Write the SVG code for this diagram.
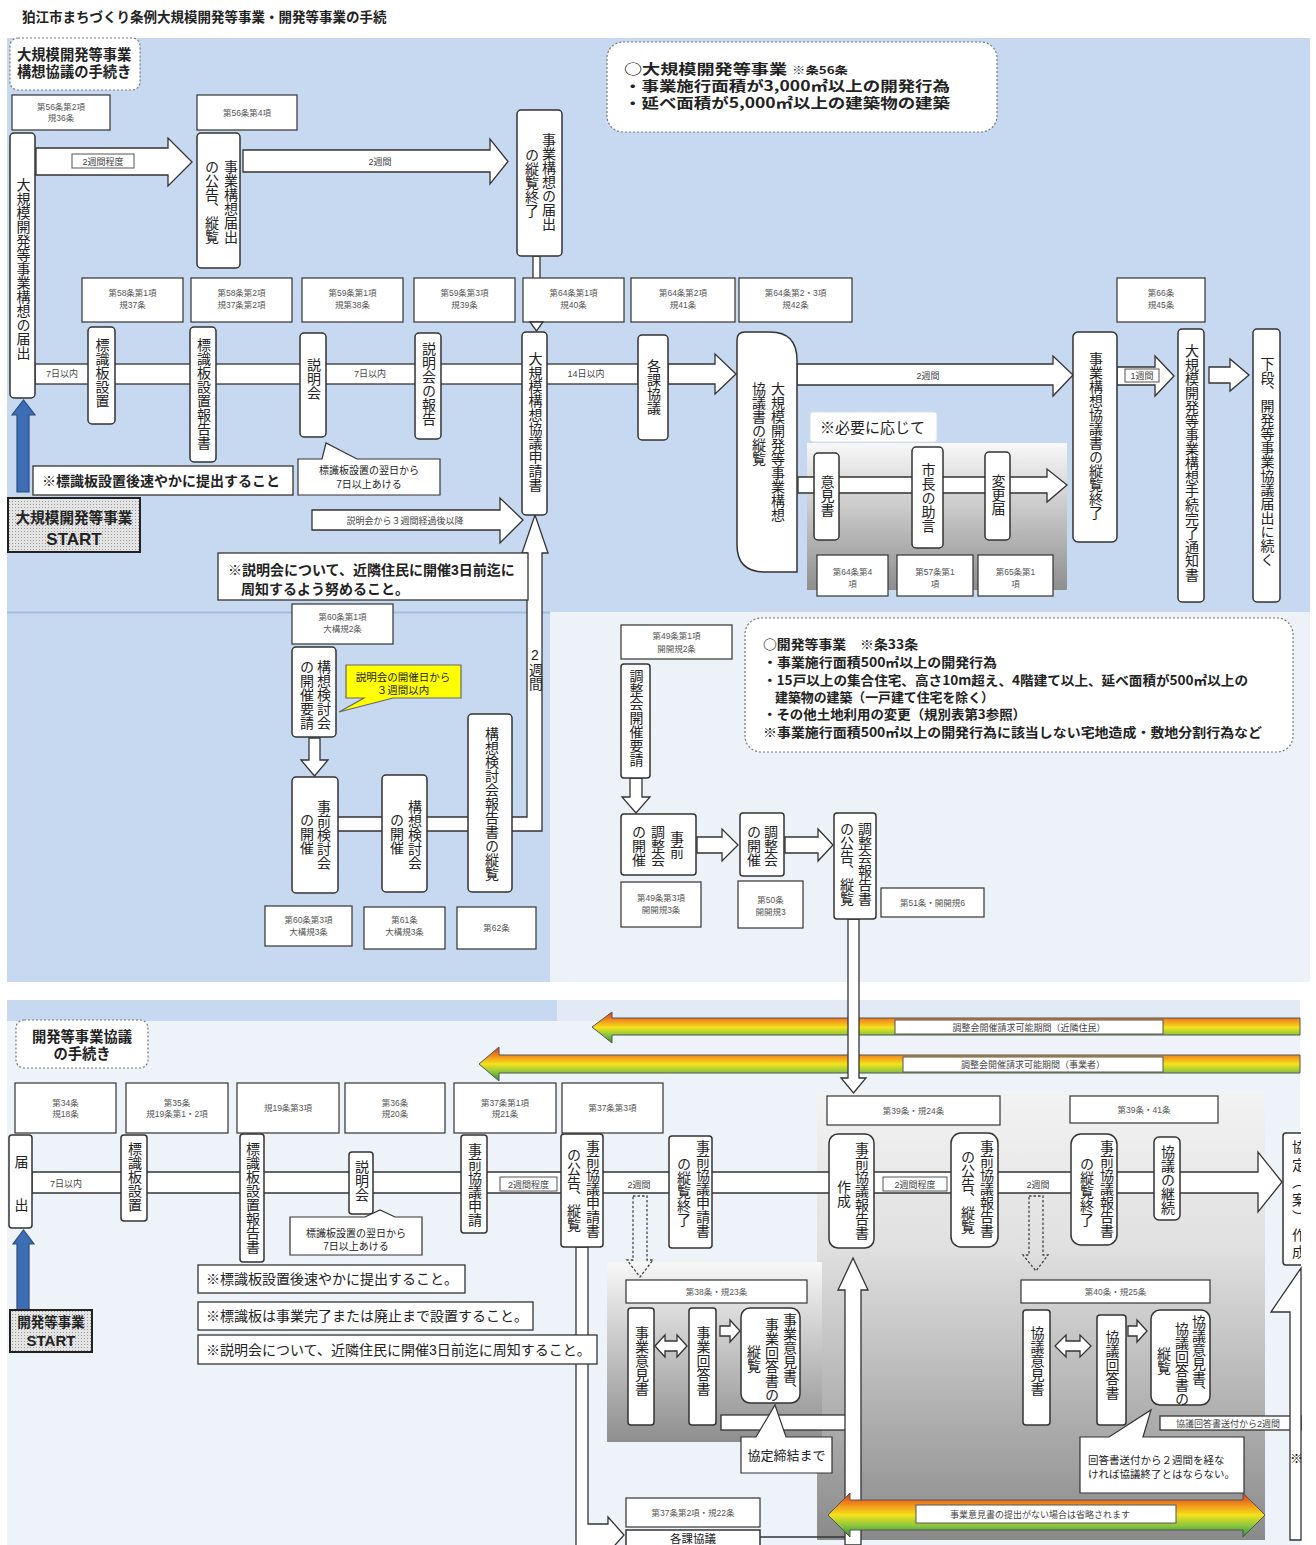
<svg xmlns="http://www.w3.org/2000/svg" width="1316" height="1545" viewBox="0 0 1316 1545">
<style>
text{font-family:"Liberation Sans","Noto Sans CJK JP",sans-serif;fill:#222}
.cj{font-family:"Noto Sans CJK JP","Liberation Sans",sans-serif}
.v{writing-mode:vertical-rl;font-size:14px}
.nd{fill:#fff;stroke:#333;stroke-width:1.5}
.ar{fill:#fff;stroke:#333;stroke-width:1.3}
.art{fill:#fff;stroke:#333;stroke-width:1.2}
.at{font-size:8.5px;fill:#555;text-anchor:middle}
.lb{font-size:9px;fill:#444;text-anchor:middle}
.lbx{fill:#fff;stroke:#555;stroke-width:1}
.note{fill:#fff;stroke:#333;stroke-width:1.3}
.dash{fill:#fff;stroke:#777;stroke-width:1.2;stroke-dasharray:2 2}
.dot{fill:none;stroke:#444;stroke-width:1.3;stroke-dasharray:2.5 2}
.rb{fill:url(#rb);stroke:#555;stroke-width:1}
.blue{fill:#3d6db5;stroke:#2a4d80;stroke-width:1.2}
.co{fill:#fff;stroke:#333;stroke-width:1.2}
</style>
<defs>
<linearGradient id="rb" x1="0" y1="0" x2="0" y2="1">
<stop offset="0" stop-color="#d8341f"/>
<stop offset="0.25" stop-color="#f08a1c"/>
<stop offset="0.5" stop-color="#f5e21a"/>
<stop offset="0.75" stop-color="#86c540"/>
<stop offset="1" stop-color="#2e8a3e"/>
</linearGradient>
<linearGradient id="gp" x1="0" y1="0" x2="0" y2="1">
<stop offset="0" stop-color="#f8f8f8"/>
<stop offset="1" stop-color="#8e8e8e"/>
</linearGradient>
<linearGradient id="gp2" x1="0" y1="0" x2="0" y2="1">
<stop offset="0" stop-color="#f3f3f3"/>
<stop offset="0.35" stop-color="#e0e0e0"/>
<stop offset="1" stop-color="#8a8a8a"/>
</linearGradient>
<pattern id="dots" width="3" height="3" patternUnits="userSpaceOnUse">
<rect width="3" height="3" fill="#e4e4e4"/>
<rect width="1" height="1" fill="#999"/>
</pattern>
<clipPath id="clipR"><rect x="0" y="0" width="1301" height="1545"/></clipPath>
</defs>

<rect width="1316" height="1545" fill="#fff"/>
<text x="22" y="22" font-size="13.5" font-weight="bold">狛江市まちづくり条例大規模開発等事業・開発等事業の手続</text>

<!-- backgrounds -->
<g id="backgrounds">
<rect x="7" y="38" width="1303" height="575" fill="#c6d9f0"/>
<rect x="7" y="612" width="543" height="370" fill="#c6d9f0"/>
<line x1="7" y1="612.5" x2="550" y2="612.5" stroke="#a3bddc" stroke-width="2"/>
<rect x="550" y="612" width="760" height="370" fill="#edf2f9"/>
<rect x="7" y="1000" width="1293" height="545" fill="#eef3fa"/>
<rect x="7" y="1000" width="550" height="21" fill="#c6d9f0"/>
<rect x="557" y="1000" width="743" height="21" fill="#e2eaf5"/>
<rect x="807" y="443" width="260" height="147" fill="url(#gp)"/>
<rect x="817" y="1090" width="448" height="450" fill="url(#gp2)"/>
<rect x="607" y="1262" width="215" height="180" fill="url(#gp)"/>
</g>

<!-- headings / info boxes -->
<g id="head-large">
<rect x="10" y="38" width="130" height="52" rx="8" class="dash"/>
<text x="17" y="60" font-size="14.3" font-weight="bold">大規模開発等事業</text>
<text x="17" y="77" font-size="14.3" font-weight="bold">構想協議の手続き</text>
</g>
<g id="info-large">
<rect x="607" y="42" width="390" height="90" rx="16" class="dash"/>
<text class="cj" x="624" y="74" font-size="14" font-weight="bold" textLength="163" lengthAdjust="spacingAndGlyphs">○大規模開発等事業</text>
<text class="cj" x="792" y="74" font-size="10" font-weight="bold" textLength="56" lengthAdjust="spacingAndGlyphs">※条56条</text>
<text class="cj" x="624" y="91" font-size="14" font-weight="bold" textLength="326" lengthAdjust="spacingAndGlyphs">・事業施行面積が3,000㎡以上の開発行為</text>
<text class="cj" x="624" y="108" font-size="14" font-weight="bold" textLength="326" lengthAdjust="spacingAndGlyphs">・延べ面積が5,000㎡以上の建築物の建築</text>
</g>
<g id="info-dev">
<rect x="745" y="618" width="548" height="134" rx="16" class="dash"/>
<text class="cj" x="763" y="649" font-size="13" font-weight="bold" textLength="155" lengthAdjust="spacingAndGlyphs">○開発等事業　※条33条</text>
<text class="cj" x="763" y="667" font-size="13" font-weight="bold" textLength="234" lengthAdjust="spacingAndGlyphs">・事業施行面積500㎡以上の開発行為</text>
<text class="cj" x="763" y="685" font-size="13" font-weight="bold" textLength="485" lengthAdjust="spacingAndGlyphs">・15戸以上の集合住宅、高さ10m超え、4階建て以上、延べ面積が500㎡以上の</text>
<text class="cj" x="775" y="702" font-size="13" font-weight="bold" textLength="219" lengthAdjust="spacingAndGlyphs">建築物の建築（一戸建て住宅を除く）</text>
<text class="cj" x="763" y="719" font-size="13" font-weight="bold" textLength="263" lengthAdjust="spacingAndGlyphs">・その他土地利用の変更（規別表第3参照）</text>
<text class="cj" x="763" y="737" font-size="13" font-weight="bold" textLength="499" lengthAdjust="spacingAndGlyphs">※事業施行面積500㎡以上の開発行為に該当しない宅地造成・敷地分割行為など</text>
</g>
<g id="head-dev">
<rect x="16" y="1020" width="132" height="48" rx="8" class="dash"/>
<text x="82" y="1042" font-size="14.3" font-weight="bold" text-anchor="middle">開発等事業協議</text>
<text x="82" y="1059" font-size="14.3" font-weight="bold" text-anchor="middle">の手続き</text>
</g>

<!-- article boxes -->
<g id="articles">
<rect class="art" x="12" y="95" width="98" height="35"/><text class="at" x="61" y="110">第56条第2項</text><text class="at" x="61" y="121">規36条</text>
<rect class="art" x="197" y="95" width="100" height="35"/><text class="at" x="247" y="116">第56条第4項</text>
<rect class="art" x="82" y="278" width="101" height="44"/><text class="at" x="132.5" y="296">第58条第1項</text><text class="at" x="132.5" y="308">規37条</text>
<rect class="art" x="191" y="278" width="101" height="44"/><text class="at" x="241.5" y="296">第58条第2項</text><text class="at" x="241.5" y="308">規37条第2項</text>
<rect class="art" x="302" y="278" width="101" height="44"/><text class="at" x="352.5" y="296">第59条第1項</text><text class="at" x="352.5" y="308">規第38条</text>
<rect class="art" x="414" y="278" width="101" height="44"/><text class="at" x="464.5" y="296">第59条第3項</text><text class="at" x="464.5" y="308">規39条</text>
<rect class="art" x="631" y="278" width="104" height="44"/><text class="at" x="683" y="296">第64条第2項</text><text class="at" x="683" y="308">規41条</text>
<rect class="art" x="739" y="278" width="113" height="44"/><text class="at" x="795.5" y="296">第64条第2・3項</text><text class="at" x="795.5" y="308">規42条</text>
<rect class="art" x="1117" y="278" width="88" height="44"/><text class="at" x="1161" y="296">第66条</text><text class="at" x="1161" y="308">規45条</text>
<rect class="art" x="817" y="555" width="71" height="41"/><text class="at" x="852.5" y="575">第64条第4</text><text class="at" x="852.5" y="587">項</text>
<rect class="art" x="897" y="555" width="76" height="41"/><text class="at" x="935" y="575">第57条第1</text><text class="at" x="935" y="587">項</text>
<rect class="art" x="978" y="555" width="75" height="41"/><text class="at" x="1015.5" y="575">第65条第1</text><text class="at" x="1015.5" y="587">項</text>
<rect class="art" x="292" y="604" width="101" height="40"/><text class="at" x="342.5" y="620">第60条第1項</text><text class="at" x="342.5" y="632">大構規2条</text>
<rect class="art" x="265" y="906" width="87" height="40"/><text class="at" x="308.5" y="923">第60条第3項</text><text class="at" x="308.5" y="935">大構規3条</text>
<rect class="art" x="364" y="907" width="81" height="42"/><text class="at" x="404.5" y="923">第61条</text><text class="at" x="404.5" y="935">大構規3条</text>
<rect class="art" x="457" y="907" width="79" height="42"/><text class="at" x="496.5" y="931">第62条</text>
<rect class="art" x="621" y="625" width="111" height="34"/><text class="at" x="676.5" y="639">第49条第1項</text><text class="at" x="676.5" y="652">開開規2条</text>
<rect class="art" x="621" y="882" width="80" height="45"/><text class="at" x="661" y="901">第49条第3項</text><text class="at" x="661" y="913">開開規3条</text>
<rect class="art" x="738" y="881" width="65" height="47"/><text class="at" x="770.5" y="903">第50条</text><text class="at" x="770.5" y="915">開開規3</text>
<rect class="art" x="881" y="888" width="103" height="29"/><text class="at" x="932.5" y="906">第51条・開開規6</text>
<rect class="art" x="15" y="1083" width="101" height="50"/><text class="at" x="65.5" y="1106">第34条</text><text class="at" x="65.5" y="1117">規18条</text>
<rect class="art" x="126" y="1083" width="102" height="50"/><text class="at" x="177" y="1106">第35条</text><text class="at" x="177" y="1117">規19条第1・2項</text>
<rect class="art" x="237" y="1083" width="102" height="50"/><text class="at" x="288" y="1111">規19条第3項</text>
<rect class="art" x="345" y="1083" width="100" height="50"/><text class="at" x="395" y="1106">第36条</text><text class="at" x="395" y="1117">規20条</text>
<rect class="art" x="454" y="1083" width="102" height="50"/><text class="at" x="505" y="1106">第37条第1項</text><text class="at" x="505" y="1117">規21条</text>
<rect class="art" x="562" y="1083" width="101" height="50"/><text class="at" x="612.5" y="1111">第37条第3項</text>
<rect class="art" x="827" y="1096" width="173" height="29"/><text class="at" x="913.5" y="1114">第39条・規24条</text>
<rect class="art" x="1070" y="1096" width="148" height="27"/><text class="at" x="1144" y="1113">第39条・41条</text>
<rect class="art" x="626" y="1280" width="181" height="23"/><text class="at" x="716.5" y="1295">第38条・規23条</text>
<rect class="art" x="1021" y="1280" width="189" height="23"/><text class="at" x="1115.5" y="1295">第40条・規25条</text>
<rect class="art" x="626" y="1498" width="134" height="29"/><text class="at" x="693" y="1516">第37条第2項・規22条</text>
</g>

<!-- connectors -->
<g id="connectors">
<polygon class="ar" points="36,148 168,148 168,138 192,162 168,186 168,175 36,175"/>
<rect class="lbx" x="72" y="154" width="62" height="14"/><text class="lb" x="103" y="164.5">2週間程度</text>
<polygon class="ar" points="243,150 490,150 490,139 508,161.5 490,184 490,172 243,172"/>
<text class="lb" x="380" y="165" font-size="9.5">2週間</text>
<rect class="ar" x="533" y="256" width="7" height="70"/>
<rect class="ar" x="35" y="364" width="603" height="20"/>
<text class="lb" x="62" y="377">7日以内</text>
<text class="lb" x="370" y="377">7日以内</text>
<text class="lb" x="586" y="377">14日以内</text>
<polygon class="ar" points="668,364 715,364 715,354 736,374 715,394 715,384 668,384"/>
<polygon class="ar" points="797,364 1053,364 1053,356 1073,375 1053,396 1053,385 797,385"/>
<text class="lb" x="928" y="379">2週間</text>
<polygon class="ar" points="1117,367 1155,367 1155,356 1174,376 1155,396 1155,385 1117,385"/>
<rect class="lbx" x="1125" y="369" width="34" height="13"/><text class="lb" x="1142" y="379" font-size="8">1週間</text>
<polygon class="ar" points="1209,367 1230,367 1230,359 1249,375 1230,391 1230,383 1209,383"/>
<polygon class="ar" points="798,477 1047,477 1047,469 1067,485 1047,502 1047,493 798,493"/>
<polygon class="ar" points="312,510 500,510 500,498 523,520 500,543 500,530 312,530"/>
<text class="lb" x="405" y="524" font-size="9.5">説明会から３週間経過後以降</text>
<path class="ar" d="M337,817 H527 V553 H522 L535,515 L548,553 H542 V831 H337 Z"/>
<text class="v" x="535" y="647" font-size="10.5" style="text-orientation:upright">2週間</text>
<polygon class="ar" points="309,738 320,738 320,760 328,760 314.5,776 301,760 309,760"/>
<polygon class="ar" points="630,778 642,778 642,797 650,797 636,813 622,797 630,797"/>
<polygon class="ar" points="697,837 722,837 722,829 738,845 722,861 722,853 697,853"/>
<polygon class="ar" points="785,837 818,837 818,829 833,845 818,861 818,853 785,853"/>

<polygon class="rb" points="592,1027 612,1012 612,1018 1300,1018 1300,1035 612,1035 612,1043"/>
<rect class="lbx" x="895" y="1020" width="268" height="14" stroke="none"/><text class="lb" x="1029" y="1031" font-size="11">調整会開催請求可能期間（近隣住民）</text>
<polygon class="rb" points="479,1064 499,1047 499,1055 1300,1055 1300,1073 499,1073 499,1081"/>
<rect class="lbx" x="903" y="1057" width="260" height="15" stroke="none"/><text class="lb" x="1033" y="1068" font-size="11">調整会開催請求可能期間（事業者）</text>
<polygon class="ar" points="848,919 859,919 859,1078 866,1078 853.5,1093 841,1078 848,1078"/>

<polygon class="ar" points="32,1172 1258,1172 1258,1152 1282,1182 1258,1212 1258,1193 32,1193"/>
<text class="lb" x="66" y="1187">7日以内</text>
<rect class="lbx" x="500" y="1177" width="57" height="14"/><text class="lb" x="528.5" y="1188">2週間程度</text>
<text class="lb" x="639" y="1188">2週間</text>
<rect class="lbx" x="883" y="1177" width="64" height="14"/><text class="lb" x="915" y="1188">2週間程度</text>
<text class="lb" x="1038" y="1188">2週間</text>
<polygon class="dot" points="633,1196 647,1196 647,1260 653,1260 640,1277 627,1260 633,1260"/>
<polygon class="dot" points="1029,1196 1043,1196 1043,1255 1048,1255 1036,1271 1023,1255 1029,1255"/>
<path class="ar" d="M576,1247 L588,1247 L588,1524 L608,1524 L608,1517 L624,1535 L608,1553 L608,1546 L576,1546 Z"/>
<rect class="ar" x="721" y="1415" width="126" height="15"/>
<polygon class="ar" points="845,1545 845,1290 838,1290 853,1258 868,1290 861,1290 861,1545"/>
<line x1="760" y1="1537" x2="845" y2="1537" stroke="#333" stroke-width="1.3"/>
<rect class="ar" x="1160" y="1416" width="141" height="14"/>
<text class="lb" x="1228" y="1427" font-size="9.5">協議回答書送付から2週間</text>
<polygon class="ar" points="655,1346 665,1335 665,1341 677,1341 677,1335 687,1346 677,1357 677,1351 665,1351 665,1357"/>
<polygon class="ar" points="720,1326 730,1326 730,1320 740,1331 730,1342 730,1336 720,1336"/>
<polygon class="ar" points="1055,1346 1066,1335 1066,1341 1080,1341 1080,1335 1091,1346 1080,1357 1080,1351 1066,1351 1066,1357"/>
<polygon class="ar" points="1128,1326 1137,1326 1137,1320 1147,1331 1137,1342 1137,1336 1128,1336"/>
<polygon class="rb" points="828,1515 850,1493 850,1500 1243,1500 1243,1493 1265,1515 1243,1537 1243,1530 850,1530 850,1537"/>
<rect class="lbx" x="916" y="1505" width="260" height="18" stroke="none"/><text class="lb" x="1040" y="1518" font-size="11">事業意見書の提出がない場合は省略されます</text>
<path class="ar" d="M1301,1268 L1271,1312 L1290,1312 L1290,1540 L1301,1540 Z"/>
<polygon class="blue" points="17,492 17,415 12,415 23.5,400 35,415 29,415 29,492"/>
<polygon class="blue" points="17,1310 17,1244 13,1244 23.5,1230 34,1244 29,1244 29,1310"/>
</g>

<!-- upper nodes -->
<g id="n-large-todoke"><rect class="nd" x="10" y="133" width="25" height="265" rx="4"/><text class="v" x="22.5" y="178">大規模開発等事業構想の届出</text></g>
<g id="n-large-koukoku"><rect class="nd" x="197" y="133" width="43" height="135" rx="4"/><text class="v" x="230" y="160">事業構想届出</text><text class="v" x="211" y="160">の公告、縦覧</text></g>
<g id="n-large-juran-end"><rect class="nd" x="517" y="110" width="45" height="146" rx="4"/><text class="v" x="548" y="133">事業構想の届出</text><text class="v" x="531" y="148">の縦覧終了</text></g>
<g id="art-64-1"><rect class="art" x="523" y="278" width="101" height="44"/><text class="at" x="573.5" y="296">第64条第1項</text><text class="at" x="573.5" y="308">規40条</text><polygon class="ar" points="530,322 543,322 536.5,331"/></g>
<g id="n-hyoshiki"><rect class="nd" x="88" y="327" width="27" height="97" rx="4"/><text class="v" x="101.5" y="338" font-size="15">標識板設置</text></g>
<g id="n-hyoshiki-hokoku"><rect class="nd" x="190" y="327" width="26" height="135" rx="4"/><text class="v" x="203" y="338" font-size="14.3">標識板設置報告書</text></g>
<g id="n-setsumeikai"><rect class="nd" x="300" y="333" width="26" height="104" rx="4"/><text class="v" x="313" y="358" font-size="16">説明会</text></g>
<g id="n-setsumeikai-hokoku"><rect class="nd" x="415" y="333" width="26" height="106" rx="4"/><text class="v" x="428" y="342" font-size="14.3">説明会の報告</text></g>
<g id="n-large-shinsei"><rect class="nd" x="522" y="332" width="25" height="183" rx="4"/><text class="v" x="534.5" y="352" font-size="14.5">大規模構想協議申請書</text></g>
<g id="n-kakuka-1"><rect class="nd" x="638" y="335" width="30" height="105" rx="4"/><text class="v" x="653" y="359" font-size="14.5">各課協議</text></g>
<g id="n-large-kyogisho"><path class="nd" d="M745,332 H770 Q797,332 797,360 V572 H765 Q737,572 737,545 V340 Q737,332 745,332 Z"/><text class="v" x="777" y="382">大規模開発等事業構想</text><text class="v" x="758" y="382">協議書の縦覧</text></g>
<g id="n-hitsuyo"><rect x="810" y="412" width="127" height="30" rx="3" fill="#fff" stroke="#d6dde6"/><text x="820" y="433" font-size="15">※必要に応じて</text></g>
<g id="n-ikensho"><rect class="nd" x="814" y="453" width="25" height="87" rx="4"/><text class="v" x="826.5" y="475" font-size="14.5">意見書</text></g>
<g id="n-shicho"><rect class="nd" x="912" y="447" width="31" height="101" rx="4"/><text class="v" x="927.5" y="463">市長の助言</text></g>
<g id="n-henko"><rect class="nd" x="985" y="452" width="25" height="88" rx="4"/><text class="v" x="997.5" y="474" font-size="14.5">変更届</text></g>
<g id="n-large-juran-end2"><rect class="nd" x="1073" y="332" width="44" height="210" rx="5"/><text class="v" x="1095" y="352" font-size="14.3">事業構想協議書の縦覧終了</text></g>
<g id="n-large-kanryo"><rect class="nd" x="1178" y="329" width="26" height="273" rx="4"/><text class="v" x="1191" y="344" font-size="14.3">大規模開発等事業構想手続完了通知書</text></g>
<g id="n-gedan"><rect class="nd" x="1253" y="329" width="27" height="273" rx="4"/><text class="v" x="1266.5" y="357" font-size="14.2">下段、開発等事業協議届出に続く</text></g>

<g id="note-large-1"><rect class="note" x="33" y="466" width="260" height="29"/><text x="42" y="486" font-size="14" font-weight="bold">※標識板設置後速やかに提出すること</text></g>
<g id="start-large"><rect x="8" y="498" width="132" height="54" fill="url(#dots)" stroke="#222" stroke-width="2"/><text x="74" y="523" font-size="14.6" font-weight="bold" text-anchor="middle">大規模開発等事業</text><text x="74" y="545" font-size="17" font-weight="bold" text-anchor="middle">START</text></g>
<g id="callout-large-1"><path class="co" d="M298,459 L322,459 L326,443 L357,459 L440,459 L440,495 L298,495 Z"/><text x="369" y="474" font-size="10" text-anchor="middle" fill="#444">標識板設置の翌日から</text><text x="369" y="488" font-size="10" text-anchor="middle" fill="#444">7日以上あける</text></g>
<g id="note-large-2"><rect class="note" x="218" y="553" width="310" height="47"/><text x="228" y="575" font-size="14" font-weight="bold">※説明会について、近隣住民に開催3日前迄に</text><text x="241" y="594" font-size="14" font-weight="bold">周知するよう努めること。</text></g>

<!-- lower-left blue nodes -->
<g id="n-kentokai-yosei"><rect class="nd" x="292" y="647" width="44" height="90" rx="4"/><text class="v" x="323" y="660">構想検討会</text><text class="v" x="306" y="660">の開催要請</text></g>
<g id="callout-yellow"><path d="M346,665 L461,665 L461,698 L393,698 L339,712 L364,698 L346,698 Z" fill="#ffff00" stroke="#666" stroke-width="1.2"/><text x="403" y="681" font-size="10.5" text-anchor="middle" fill="#b34700">説明会の開催日から</text><text x="403" y="694" font-size="10.5" text-anchor="middle" fill="#b34700">３週間以内</text></g>
<g id="n-jizen-kentokai"><rect class="nd" x="292" y="777" width="46" height="116" rx="4"/><text class="v" x="323" y="800" font-size="14.5">事前検討会</text><text class="v" x="306" y="813" font-size="14.5">の開催</text></g>
<g id="n-kousou-kentokai"><rect class="nd" x="382" y="775" width="45" height="117" rx="4"/><text class="v" x="414" y="800" font-size="14.5">構想検討会</text><text class="v" x="396" y="813" font-size="14.5">の開催</text></g>
<g id="n-kentokai-hokoku"><rect class="nd" x="468" y="714" width="44" height="178" rx="4"/><text class="v" x="491" y="727" font-size="14.4">構想検討会報告書の縦覧</text></g>

<!-- right middle nodes -->
<g id="n-choseikai-yosei"><rect class="nd" x="621" y="664" width="29" height="114" rx="3"/><text class="v" x="635.5" y="669" font-size="14.5">調整会開催要請</text></g>
<g id="n-jizen-choseikai"><rect class="nd" x="621" y="814" width="75" height="61" rx="3"/><text class="v" x="676" y="831" font-size="13.5">事前</text><text class="v" x="657" y="825" font-size="13.5">調整会</text><text class="v" x="638" y="825" font-size="13.5">の開催</text></g>
<g id="n-choseikai"><rect class="nd" x="740" y="813" width="44" height="63" rx="3"/><text class="v" x="770" y="825" font-size="13.5">調整会</text><text class="v" x="753" y="825" font-size="13.5">の開催</text></g>
<g id="n-choseikai-hokoku"><rect class="nd" x="834" y="813" width="42" height="106" rx="3"/><text class="v" x="864" y="822">調整会報告書</text><text class="v" x="846" y="822">の公告、縦覧</text></g>

<!-- lower nodes -->
<g id="n-todokede"><rect class="nd" x="9" y="1135" width="23" height="93" rx="3"/><text class="v" x="20.5" y="1155" style="letter-spacing:29px">届出</text></g>
<g id="n-hyoshiki-2"><rect class="nd" x="121" y="1135" width="26" height="86" rx="3"/><text class="v" x="134" y="1142" font-size="14.5">標識板設置</text></g>
<g id="n-hyoshiki-hokoku-2"><rect class="nd" x="240" y="1134" width="24" height="128" rx="3"/><text class="v" x="252" y="1142">標識板設置報告書</text></g>
<g id="n-setsumeikai-2"><rect class="nd" x="349" y="1152" width="24" height="62" rx="3"/><text class="v" x="361" y="1160" font-size="15">説明会</text></g>
<g id="callout-dev-1"><path class="co" d="M290,1217 L365,1217 L380,1210 L395,1217 L422,1217 L422,1255 L290,1255 Z"/><text x="356" y="1237" font-size="10" text-anchor="middle" fill="#444">標識板設置の翌日から</text><text x="356" y="1250" font-size="10" text-anchor="middle" fill="#444">7日以上あける</text></g>
<g id="n-jizen-shinsei"><rect class="nd" x="461" y="1135" width="26" height="98" rx="3"/><text class="v" x="474" y="1143">事前協議申請</text></g>
<g id="n-shinsei-koukoku"><rect class="nd" x="561" y="1134" width="42" height="113" rx="3"/><text class="v" x="592" y="1140" font-size="14.5">事前協議申請書</text><text class="v" x="573" y="1148" font-size="14.5">の公告、縦覧</text></g>
<g id="n-shinsei-juran-end"><rect class="nd" x="669" y="1136" width="43" height="112" rx="3"/><text class="v" x="702" y="1140" font-size="14.5">事前協議申請書</text><text class="v" x="683" y="1157" font-size="14.5">の縦覧終了</text></g>
<g id="n-hokoku-sakusei"><rect class="nd" x="829" y="1134" width="45" height="114" rx="9"/><text class="v" x="861" y="1142" font-size="14.3">事前協議報告書</text><text class="v" x="843" y="1180" font-size="14.3">作成</text></g>
<g id="n-hokoku-koukoku"><rect class="nd" x="951" y="1133" width="47" height="114" rx="10"/><text class="v" x="986" y="1140" font-size="14.3">事前協議報告書</text><text class="v" x="967" y="1150" font-size="14.3">の公告、縦覧</text></g>
<g id="n-hokoku-juran-end"><rect class="nd" x="1071" y="1134" width="46" height="111" rx="10"/><text class="v" x="1106" y="1140" font-size="14.3">事前協議報告書</text><text class="v" x="1086" y="1157" font-size="14.3">の縦覧終了</text></g>
<g id="n-keizoku"><rect class="nd" x="1154" y="1137" width="26" height="83" rx="5"/><text class="v" x="1167" y="1145">協議の継続</text></g>
<g id="n-kyotei" clip-path="url(#clipR)"><rect class="nd" x="1283" y="1133" width="30" height="132" rx="3"/><text class="v" x="1298" y="1140" style="letter-spacing:3.5px">協定（案）作成</text></g>

<g id="note-dev-1"><rect class="note" x="198" y="1265" width="267" height="28"/><text x="206" y="1284" font-size="14">※標識板設置後速やかに提出すること。</text></g>
<g id="note-dev-2"><rect class="note" x="198" y="1302" width="335" height="28"/><text x="206" y="1321" font-size="14">※標識板は事業完了または廃止まで設置すること。</text></g>
<g id="note-dev-3"><rect class="note" x="198" y="1335" width="399" height="29"/><text x="206" y="1355" font-size="14">※説明会について、近隣住民に開催3日前迄に周知すること。</text></g>
<g id="start-dev"><rect x="10" y="1310" width="82" height="42" fill="url(#dots)" stroke="#222" stroke-width="2"/><text x="51" y="1327" font-size="13.5" font-weight="bold" text-anchor="middle">開発等事業</text><text x="51" y="1346" font-size="15" font-weight="bold" text-anchor="middle">START</text></g>

<g id="n-jigyo-iken"><rect class="nd" x="628" y="1308" width="26" height="117" rx="3"/><text class="v" x="641" y="1326" font-size="15">事業意見書</text></g>
<g id="n-jigyo-kaito"><rect class="nd" x="689" y="1308" width="27" height="117" rx="3"/><text class="v" x="702.5" y="1326" font-size="15">事業回答書</text></g>
<g id="n-jigyo-juran"><rect class="nd" x="741" y="1308" width="59" height="95" rx="9"/><text class="v" x="789" y="1313" font-size="13.5">事業意見書、</text><text class="v" x="771" y="1318" font-size="13.5">事業回答書の</text><text class="v" x="753" y="1345" font-size="13.5">縦覧</text></g>
<g id="callout-kyotei"><path class="co" d="M741,1437 L756,1437 L775,1405 L786,1437 L832,1437 L832,1473 L741,1473 Z"/><text x="786.5" y="1460" font-size="13" text-anchor="middle">協定締結まで</text></g>
<g id="n-kyogi-iken"><rect class="nd" x="1023" y="1310" width="27" height="115" rx="3"/><text class="v" x="1036.5" y="1326" font-size="15">協議意見書</text></g>
<g id="n-kyogi-kaito"><rect class="nd" x="1097" y="1315" width="29" height="110" rx="3"/><text class="v" x="1111.5" y="1330" font-size="15">協議回答書</text></g>
<g id="n-kyogi-juran"><rect class="nd" x="1151" y="1310" width="59" height="95" rx="9"/><text class="v" x="1198" y="1315" font-size="13.5">協議意見書、</text><text class="v" x="1181" y="1322" font-size="13.5">協議回答書の</text><text class="v" x="1163" y="1347" font-size="13.5">縦覧</text></g>
<g id="callout-kaito"><path class="co" d="M1080,1437 L1109,1437 L1151,1410 L1143,1437 L1244,1437 L1244,1493 L1080,1493 Z"/><text x="1088" y="1464" font-size="10.5" fill="#444">回答書送付から２週間を経な</text><text x="1088" y="1478" font-size="10.5" fill="#444">ければ協議終了とはならない。</text></g>
<g id="n-kakuka-2"><rect class="nd" x="626" y="1530" width="134" height="20"/><text x="693" y="1543" font-size="11.5" text-anchor="middle">各課協議</text></g>
<text x="1290" y="1463" font-size="13">※</text>
</svg>
